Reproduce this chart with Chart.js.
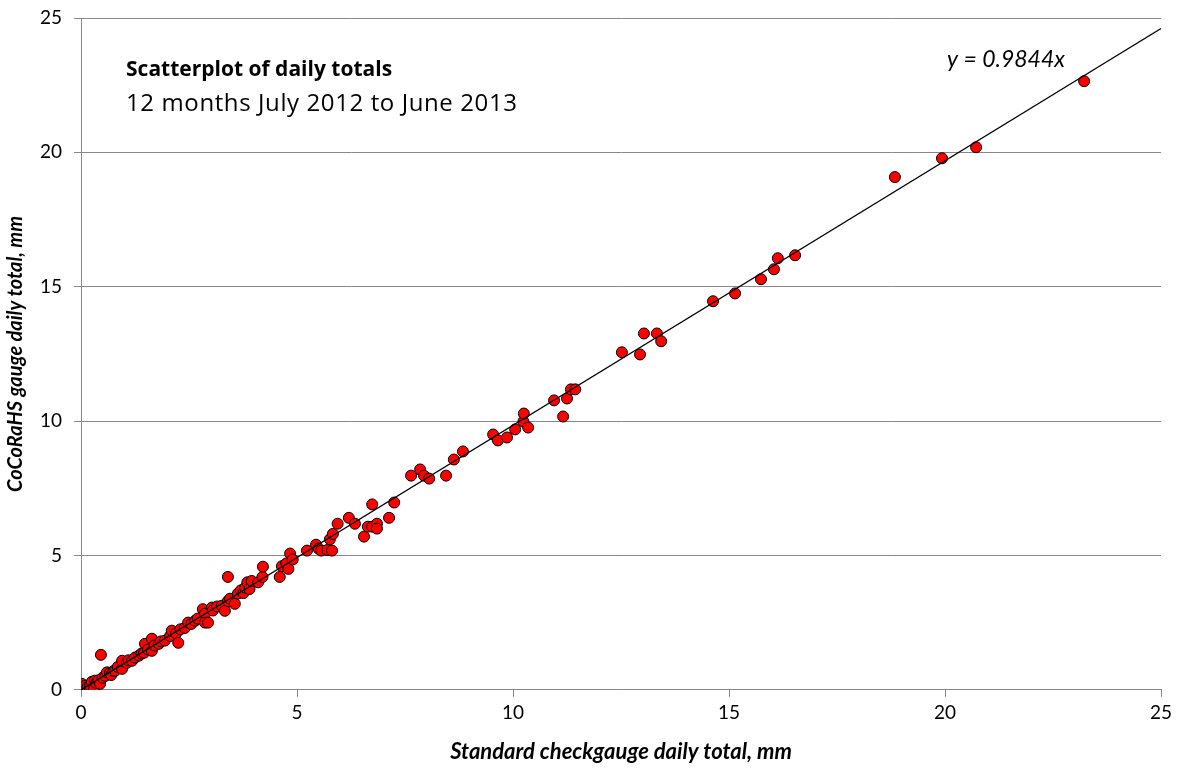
<!DOCTYPE html>
<html lang="en">
<head>
  <meta charset="UTF-8">
  <title>Scatterplot of daily totals</title>
  <script src="https://cdn.jsdelivr.net/npm/chart.js"></script>
  <style>
    html, body { margin: 0; padding: 0; background: #fff; }
    #wrap { width: 1184px; height: 769px; }
  </style>
</head>
<body>
  <div id="wrap"><canvas id="chart" width="1184" height="769"></canvas></div>

  <script>
    // daily totals, mm
    const checkgauge = [0, 0.02, 0.05, 0.1, 0.1, 0.15, 0.2, 0.21, 0.25, 0.3, 0.32, 0.35, 0.4, 0.44, 0.46, 0.5, 0.56, 0.6, 0.67, 0.7,
      0.75, 0.79, 0.85, 0.95, 0.95, 1.06, 1.1, 1.18, 1.25, 1.34, 1.4, 1.46, 1.48, 1.55, 1.64, 1.64, 1.7, 1.8, 1.85, 1.94,
      2.06, 2.1, 2.2, 2.25, 2.3, 2.4, 2.48, 2.55, 2.64, 2.7, 2.82, 2.87, 2.87, 2.94, 3.03, 3.05, 3.15, 3.26, 3.33, 3.4,
      3.45, 3.4, 3.56, 3.63, 3.7, 3.76, 3.8, 3.85, 3.9, 3.95, 4.1, 4.2, 4.21, 4.6, 4.65, 4.75, 4.8, 4.84, 4.9, 5.23,
      5.44, 5.5, 5.56, 5.7, 5.76, 5.81, 5.83, 5.94, 6.2, 6.34, 6.55, 6.64, 6.74, 6.74, 6.85, 6.85, 7.13, 7.25, 7.64, 7.85,
      7.94, 8.06, 8.45, 8.63, 8.84, 9.54, 9.65, 9.86, 10.05, 10.24, 10.25, 10.35, 10.95, 11.16, 11.25, 11.34, 11.44, 12.52, 12.94, 13.03,
      13.33, 13.43, 14.63, 15.14, 15.74, 16.04, 16.13, 16.53, 18.84, 19.93, 20.72, 23.22];
    const cocorahs = [0, 0.22, 0.05, 0.04, 0.15, 0.1, 0.0, 0.15, 0.3, 0.02, 0.34, 0.25, 0.35, 0.22, 1.3, 0.45, 0.52, 0.65, 0.63, 0.55,
      0.7, 0.71, 0.85, 0.78, 1.08, 1.0, 1.1, 1.08, 1.2, 1.27, 1.35, 1.38, 1.71, 1.5, 1.45, 1.9, 1.65, 1.71, 1.8, 1.83,
      2.0, 2.2, 2.1, 1.75, 2.25, 2.3, 2.5, 2.45, 2.57, 2.65, 3.0, 2.83, 2.5, 2.5, 3.06, 2.95, 3.1, 3.13, 2.94, 3.3,
      3.39, 4.2, 3.2, 3.58, 3.7, 3.6, 3.8, 4.0, 3.75, 4.05, 4.0, 4.2, 4.58, 4.2, 4.6, 4.7, 4.5, 5.07, 4.85, 5.18,
      5.4, 5.25, 5.18, 5.2, 5.6, 5.18, 5.8, 6.18, 6.4, 6.18, 5.7, 6.07, 6.9, 6.07, 6.18, 6.0, 6.4, 6.97, 7.97, 8.2,
      7.97, 7.86, 7.97, 8.57, 8.87, 9.5, 9.28, 9.39, 9.69, 9.98, 10.28, 9.76, 10.77, 10.17, 10.84, 11.18, 11.18, 12.56, 12.48, 13.26,
      13.26, 12.97, 14.46, 14.75, 15.28, 15.65, 16.06, 16.17, 19.08, 19.78, 20.19, 22.65];

    // fitted trend line through the origin
    const slope = 0.9844;
    const trendX = [0, 25];
    const axisTicks = [0, 5, 10, 15, 20, 25];

    const points = checkgauge.map((x, i) => ({ x: x, y: cocorahs[i] }));
    const trend = trendX.map(x => ({ x: x, y: slope * x }));

    const FONT = 'Lato, "Open Sans", sans-serif';
    const TITLE_FONT = '"Open Sans", Lato, sans-serif';

    // title block and the equation
    const labels = {
      id: 'labels',
      afterDraw(c) {
        const ctx = c.ctx, a = c.chartArea;
        ctx.save();
        ctx.fillStyle = '#000';
        ctx.textBaseline = 'alphabetic';
        ctx.font = 'bold 21px ' + TITLE_FONT;
        ctx.fillText('Scatterplot of daily totals', a.left + 45, a.top + 58);
        ctx.font = '24px ' + TITLE_FONT;
        ctx.letterSpacing = '0.6px';
        ctx.fillText('12 months July 2012 to June 2013', a.left + 45, a.top + 93);
        ctx.letterSpacing = '0px';
        ctx.font = 'italic 23px ' + FONT;
        ctx.fillText('y = 0.9844x', a.left + 866, a.top + 49);
        ctx.restore();
      }
    };

    new Chart(document.getElementById('chart'), {
      type: 'scatter',
      data: {
        datasets: [
          {
            type: 'line',
            data: trend,
            borderColor: '#000',
            borderWidth: 1.2,
            pointRadius: 0,
            fill: false,
            order: 0
          },
          {
            data: points,
            backgroundColor: '#ff0000',
            borderColor: '#000',
            borderWidth: 1,
            pointRadius: 5.5,
            order: 1
          }
        ]
      },
      options: {
        responsive: false,
        animation: false,
        layout: { padding: { left: 4, right: 23, top: 18, bottom: 0 } },
        plugins: {
          legend: { display: false },
          tooltip: { enabled: false }
        },
        scales: {
          x: {
            type: 'linear',
            min: 0, max: 25,
            afterBuildTicks: s => { s.ticks = axisTicks.map(v => ({ value: v })); },
            grid: { drawOnChartArea: false, color: '#888', tickLength: 7 },
            border: { color: '#888' },
            ticks: { color: '#000', font: { family: FONT, size: 19 }, padding: 5 },
            title: {
              display: true,
              text: 'Standard checkgauge daily total, mm',
              color: '#000',
              font: { family: FONT, size: 22, weight: 'bold', style: 'italic' },
              padding: { top: 9 }
            }
          },
          y: {
            type: 'linear',
            min: 0, max: 25,
            afterBuildTicks: s => { s.ticks = axisTicks.map(v => ({ value: v })); },
            afterFit: s => { s.paddingTop = 0; },
            grid: { color: '#888', tickLength: 7 },
            border: { color: '#888' },
            ticks: { color: '#000', font: { family: FONT, size: 19 }, padding: 12 },
            title: {
              display: true,
              text: 'CoCoRaHS gauge daily total, mm',
              color: '#000',
              font: { family: FONT, size: 20, weight: 'bold', style: 'italic' },
              padding: { top: 0, bottom: 0 }
            }
          }
        }
      },
      plugins: [labels]
    });
  </script>
</body>
</html>
